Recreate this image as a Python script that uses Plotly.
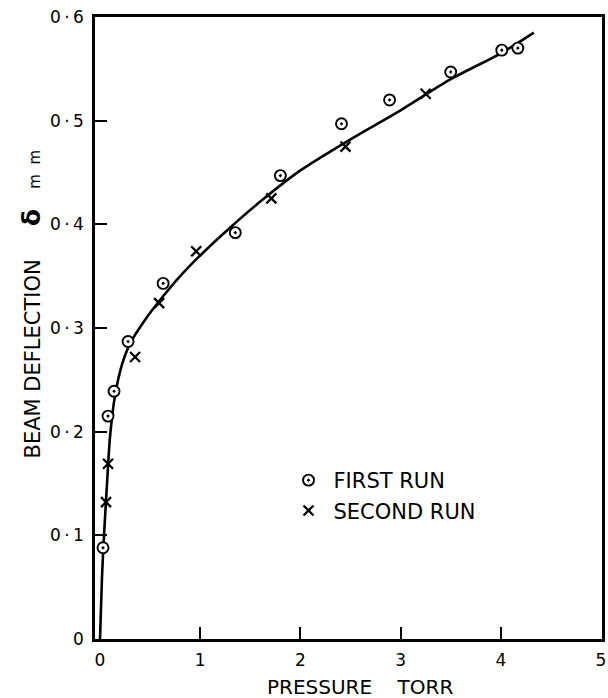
import plotly.graph_objects as go

# First run (circles)
first_x = [0.03, 0.08, 0.14, 0.28, 0.63, 1.35, 1.80, 2.41, 2.89, 3.50, 4.01, 4.17]
first_y = [0.088, 0.215, 0.239, 0.287, 0.343, 0.392, 0.447, 0.497, 0.520, 0.547, 0.568, 0.570]

# Second run (crosses)
second_x = [0.06, 0.08, 0.35, 0.59, 0.96, 1.71, 2.45, 3.25]
second_y = [0.132, 0.169, 0.272, 0.324, 0.374, 0.425, 0.475, 0.526]

# Hand-drawn fitted curve
curve_x = [0, 0.02, 0.04, 0.07, 0.10, 0.15, 0.22, 0.30, 0.45, 0.60, 0.80, 1.00,
           1.30, 1.60, 2.00, 2.50, 3.00, 3.50, 4.00, 4.33]
curve_y = [0, 0.06, 0.10, 0.15, 0.195, 0.235, 0.265, 0.285, 0.308, 0.327, 0.350, 0.370,
           0.397, 0.422, 0.452, 0.482, 0.510, 0.540, 0.565, 0.585]

x_ticks = [0, 1, 2, 3, 4, 5]
x_ticktext = ["0", "1", "2", "3", "4", "5"]
y_ticks = [0, 0.1, 0.2, 0.3, 0.4, 0.5, 0.6]
y_ticktext = ["0", "0\u2009·\u20091", "0\u2009·\u20092", "0\u2009·\u20093",
              "0\u2009·\u20094", "0\u2009·\u20095", "0\u2009·\u20096"]

FONT = "DejaVu Sans"

fig = go.Figure()
fig.add_trace(go.Scatter(
    x=curve_x, y=curve_y, mode="lines",
    line=dict(color="black", width=2.6, shape="spline", smoothing=0.8),
    showlegend=False, hoverinfo="skip"))
fig.add_trace(go.Scatter(
    x=first_x, y=first_y, mode="markers", name="FIRST RUN", legendgroup="a",
    marker=dict(symbol="circle-dot", size=11, color="white",
                line=dict(color="black", width=1.9))))
fig.add_trace(go.Scatter(
    x=second_x, y=second_y, mode="markers", name="SECOND RUN", legendgroup="b",
    marker=dict(symbol="x-thin", size=10, color="black",
                line=dict(color="black", width=2.3))))

L, R, T, B = 95, 2, 17, 59
W, H = 608, 698
pw, ph = W - L - R, H - T - B

def px_to_paper_x(px):
    return (px - L) / pw

def px_to_paper_y(py):
    return (H - B - py) / ph

fig.update_layout(
    width=W, height=H,
    margin=dict(l=L, r=R, t=T, b=B),
    paper_bgcolor="white", plot_bgcolor="white",
    font=dict(family=FONT, color="black", size=17),
    xaxis=dict(range=[-0.05, 5.01], tickvals=x_ticks, ticktext=x_ticktext,
               showgrid=False, zeroline=False, showline=True, mirror=True,
               linecolor="black", linewidth=2.5,
               ticks="inside", ticklen=12, tickwidth=2, tickcolor="black",
               ticklabelstandoff=4, ticklabeloverflow="allow",
               tickfont=dict(size=17)),
    yaxis=dict(range=[0, 0.6], tickvals=y_ticks, ticktext=y_ticktext,
               showgrid=False, zeroline=False, showline=True, mirror=True,
               linecolor="black", linewidth=2.5,
               ticks="inside", ticklen=12, tickwidth=2, tickcolor="black",
               ticklabelstandoff=5, tickfont=dict(size=17)),
    legend=dict(x=px_to_paper_x(285), y=px_to_paper_y(460), xanchor="left", yanchor="top",
                bgcolor="rgba(0,0,0,0)", borderwidth=0, tracegroupgap=0,
                font=dict(family=FONT, size=21), itemwidth=40),
    showlegend=True,
)

NB = "\u00a0"
ytitle = ("BEAM DEFLECTION" + NB * 5 +
          "<span style='font-size:25px'><b>δ</b></span>" + NB * 3 +
          "<span style='font-size:15px'>m" + NB * 2 + "m</span>")
fig.add_annotation(text=ytitle, textangle=-90, xref="paper", yref="paper",
                   x=px_to_paper_x(30), y=px_to_paper_y(304),
                   xanchor="center", yanchor="middle", showarrow=False,
                   font=dict(family=FONT, size=21))
fig.add_annotation(text="PRESSURE" + NB * 4 + "TORR", xref="paper", yref="paper",
                   x=px_to_paper_x(362), y=px_to_paper_y(687),
                   xanchor="center", yanchor="middle", showarrow=False,
                   font=dict(family=FONT, size=20))

fig.write_html("out.html")
